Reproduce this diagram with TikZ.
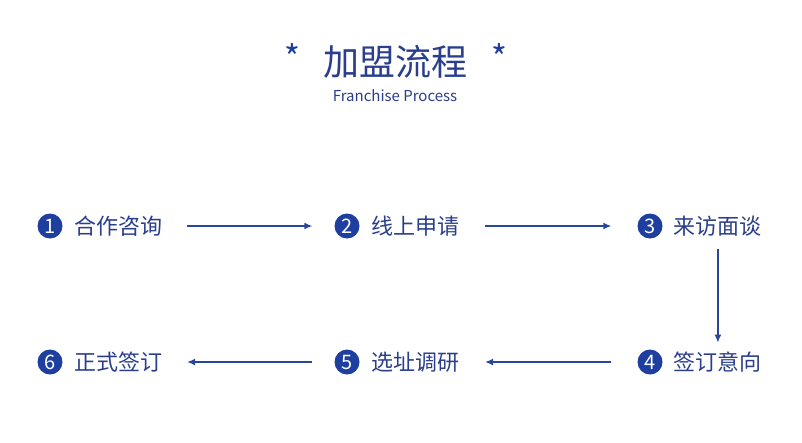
\documentclass[tikz,border=0pt]{standalone}
\usepackage{fontspec}
\setmainfont{Noto Sans CJK SC}
\usetikzlibrary{positioning,arrows.meta}
\definecolor{stepblue}{RGB}{30,62,160}
\definecolor{textblue}{RGB}{42,62,140}
\definecolor{arrowblue}{RGB}{40,70,155}
\tikzset{
  stepnum/.style={circle,fill=stepblue,text=white,inner sep=0pt,minimum size=25pt,font=\fontsize{20}{20}\selectfont},
  steptext/.style={text=textblue,inner sep=0pt,font=\fontsize{22}{22}\selectfont},
  flow/.style={arrowblue,line width=1.4pt,-{Latex[length=8pt,width=7pt]}}
}
\begin{document}
\begin{tikzpicture}[x=1pt,y=-1pt]
	\useasboundingbox[fill=white] (0,0) rectangle (802,442);

	% title
	\node[text=textblue,font=\fontsize{36}{36}\selectfont] (title) at (395,62) {加盟流程};
	\node[text=stepblue,font=\fontsize{34}{34}\selectfont] (starl) at (292,57) {*};
	\node[text=stepblue,font=\fontsize{34}{34}\selectfont] (starr) at (499,57) {*};
	\node[text=textblue,font=\fontsize{15}{15}\selectfont] (sub) at (395,96) {Franchise Process};

	% first row
	\node[stepnum] (n1) at (50,226) {1};
	\node[steptext,right=12pt of n1] (t1) {合作咨询};
	\node[stepnum] (n2) at (347,226) {2};
	\node[steptext,right=12pt of n2] (t2) {线上申请};
	\node[stepnum] (n3) at (650,226) {3};
	\node[steptext,right=11pt of n3] (t3) {来访面谈};

	% second row
	\node[stepnum] (n4) at (650,362) {4};
	\node[steptext,right=11pt of n4] (t4) {签订意向};
	\node[stepnum] (n5) at (347,362) {5};
	\node[steptext,right=12pt of n5] (t5) {选址调研};
	\node[stepnum] (n6) at (50,362) {6};
	\node[steptext,right=12pt of n6] (t6) {正式签订};

	% arrows
	\draw[flow,shorten <=24pt,shorten >=22pt] (t1.east) -- (n2.west);
	\draw[flow,shorten <=25pt,shorten >=26pt] (t2.east) -- (n3.west);
	\draw[flow,shorten <=13pt,shorten >=9pt] (t3.south) -- (t4.north);
	\draw[flow,shorten <=26pt,shorten >=25pt] (n4.west) -- (t5.east);
	\draw[flow,shorten <=22pt,shorten >=24pt] (n5.west) -- (t6.east);
\end{tikzpicture}
\end{document}
